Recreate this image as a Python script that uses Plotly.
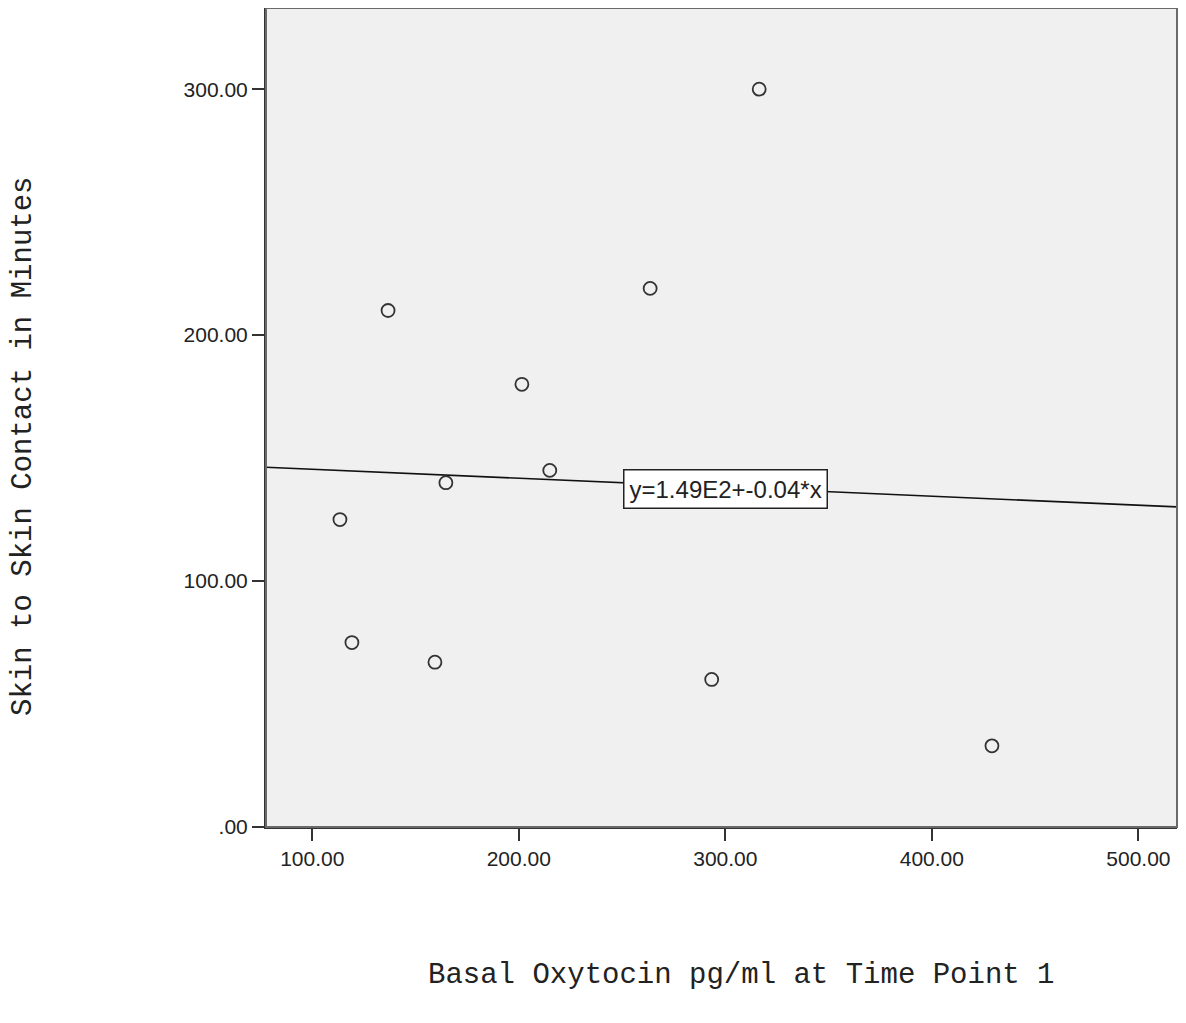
import plotly.graph_objects as go

# Data
oxytocin = [113.4, 119.2, 136.7, 159.4, 164.7, 201.5, 215.0, 263.6, 293.4, 316.4, 429.1]
skin_minutes = [125, 75, 210, 67, 140, 180, 145, 219, 60, 300, 33]

fit_intercept = 149.1
fit_slope = -0.0365
fit_label = "y=1.49E2+-0.04*x"

x_tickvals = [100, 200, 300, 400, 500]
x_ticktext = ["100.00", "200.00", "300.00", "400.00", "500.00"]
y_tickvals = [0, 100, 200, 300]
y_ticktext = [".00", "100.00", "200.00", "300.00"]

x_range = [77.6, 518.7]
y_range = [0, 333.0]

fit_x = x_range
fit_y = [fit_intercept + fit_slope * v for v in fit_x]
label_x = 300
label_y = fit_intercept + fit_slope * label_x

# The page adds an 8px body margin; figure is sized so the plot lands where the reference has it
W, H = 1170, 995
ML, MR, MT, MB = 258, 1, 0, 176
PW, PH = W - ML - MR, H - MT - MB
OFF = 8


def px_to_paper(px, py):
    return ((px - OFF) - ML) / PW, (H - MB - (py - OFF)) / PH


fig = go.Figure()
fig.add_trace(go.Scatter(
    x=fit_x, y=fit_y, mode="lines",
    line=dict(color="#111111", width=1.6),
    hoverinfo="skip", showlegend=False,
))
fig.add_trace(go.Scatter(
    x=oxytocin, y=skin_minutes, mode="markers",
    marker=dict(symbol="circle-open", size=13, color="#333333", line=dict(width=1.8, color="#333333")),
    showlegend=False,
))

fig.add_shape(type="rect", xref="paper", yref="paper", x0=0, y0=0, x1=1, y1=1,
              line=dict(color="#6a6a6a", width=2), layer="above")

fig.add_annotation(
    x=label_x, y=label_y, xref="x", yref="y", text=fit_label, showarrow=False, yshift=-2,
    font=dict(family="Liberation Sans, Arial", size=24, color="#222222"),
    bgcolor="white", bordercolor="#222222", borderwidth=1.5, borderpad=5,
)

tx, ty = px_to_paper(741, 975)
fig.add_annotation(
    xref="paper", yref="paper", x=tx, y=ty, xanchor="center", yanchor="middle",
    text="Basal Oxytocin pg/ml at Time Point 1", showarrow=False,
    font=dict(family="Liberation Mono, Courier New", size=29, color="#222222"),
)
yx, yy = px_to_paper(23, 446)
fig.add_annotation(
    xref="paper", yref="paper", x=yx, y=yy, xanchor="center", yanchor="middle",
    text="Skin to Skin Contact in Minutes", textangle=-90, showarrow=False,
    font=dict(family="Liberation Mono, Courier New", size=29, color="#222222"),
)

fig.update_layout(
    width=W, height=H,
    margin=dict(l=ML, r=MR, t=MT, b=MB),
    paper_bgcolor="white", plot_bgcolor="#f0f0f0",
    font=dict(family="Liberation Sans, Arial", size=21, color="#222222"),
)

fig.update_xaxes(
    range=x_range, tickvals=x_tickvals, ticktext=x_ticktext,
    showgrid=False, zeroline=False, showline=True, linecolor="#333333", linewidth=2,
    ticks="outside", ticklen=12, tickwidth=2, tickcolor="#333333",
)
fig.update_yaxes(
    range=y_range, tickvals=y_tickvals, ticktext=y_ticktext,
    showgrid=False, zeroline=False, showline=True, linecolor="#333333", linewidth=2,
    ticks="outside", ticklen=12, tickwidth=2, tickcolor="#333333",
)

fig.write_html("out.html")
